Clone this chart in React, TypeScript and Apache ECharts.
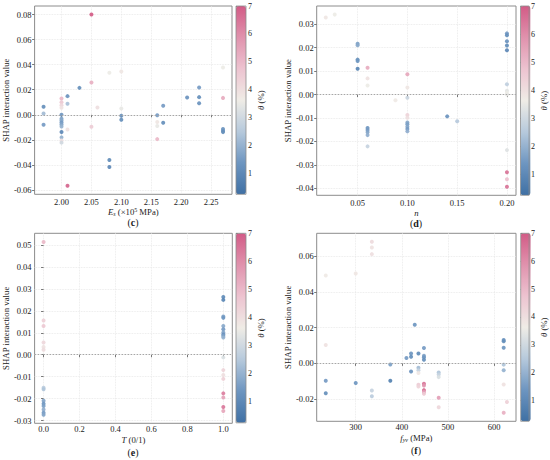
import React, { useEffect, useRef } from "react";
import * as echarts from "echarts";

// ---------- data ----------
const THETA_MIN = 0.26;
const THETA_MAX = 7;
const cbTicks = [1, 2, 3, 4, 5, 6, 7];

// (c) Es (x10^5 MPa)
const cEs = [1.97, 1.97, 1.97,
  2.0, 2.0, 2.0, 2.0, 2.0, 2.0, 2.0, 2.0, 2.0, 2.0, 2.0, 2.0, 2.0, 2.0,
  2.01, 2.01, 2.01, 2.01,
  2.03,
  2.05, 2.05, 2.05,
  2.06,
  2.08, 2.08, 2.08,
  2.1, 2.1, 2.1, 2.1,
  2.16, 2.16, 2.16, 2.16,
  2.17, 2.17,
  2.21,
  2.23, 2.23, 2.23,
  2.27, 2.27, 2.27, 2.27, 2.27];
const cShap = [0.0064, 0.0011, -0.008,
  0.013, 0.0101, 0.0077, 0.0056, 0.0, -0.0032, -0.0045, -0.0061, -0.0077, -0.0093, -0.0138, -0.018, -0.0205, -0.0222,
  0.0149, 0.0088, -0.0117, -0.0566,
  0.0215,
  0.08, 0.0258, -0.0096,
  0.0058,
  0.0335, -0.0361, -0.0417,
  0.0345, 0.005, -0.0008, -0.004,
  -0.0003, -0.0058, -0.009, -0.0194,
  0.0072, -0.0064,
  0.0138,
  0.0218, 0.0141, 0.0093,
  0.0377, 0.0135, -0.0114, -0.0127, -0.0138];
const cTheta = [1.2, 2.2, 1.5,
  5.0, 4.6, 4.2, 3.9, 1.4, 1.6, 1.8, 1.5, 1.7, 2.0, 1.0, 2.0, 4.0, 3.0,
  1.3, 2.3, 3.9, 6.8,
  1.2,
  7.0, 5.2, 4.5,
  4.0,
  3.6, 1.1, 1.0,
  3.8, 3.5, 1.3, 1.2,
  1.5, 3.8, 3.5, 5.0,
  1.5, 1.2,
  1.3,
  1.5, 1.2, 1.3,
  3.6, 5.3, 1.4, 1.3, 1.2];
const cXTicks = [2.0, 2.05, 2.1, 2.15, 2.2, 2.25];
const cYTicks = [-0.06, -0.04, -0.02, 0, 0.02, 0.04, 0.06, 0.08];

// (d) n
const dN = [0.018, 0.027,
  0.05, 0.05, 0.05, 0.05, 0.05,
  0.06, 0.06, 0.06, 0.06, 0.06, 0.06, 0.06, 0.06,
  0.088,
  0.1, 0.1, 0.1, 0.1, 0.1, 0.1, 0.1, 0.1, 0.1, 0.1,
  0.14, 0.15,
  0.2, 0.2, 0.2, 0.2, 0.2, 0.2, 0.2, 0.2, 0.2, 0.2, 0.2, 0.2, 0.2];
const dShap = [0.0329, 0.0341,
  0.0217, 0.021, 0.0149, 0.0143, 0.011,
  0.0114, 0.0069, 0.0039, -0.0143, -0.0151, -0.0161, -0.0173, -0.0221,
  -0.0024,
  0.0087, 0.003, -0.0014, -0.0087, -0.0099, -0.0119, -0.0127, -0.0137, -0.0147, -0.0157,
  -0.0093, -0.0114,
  0.0261, 0.0253, 0.0227, 0.0209, 0.0189, 0.0044, 0.0016, 0.0007, 0.0, -0.0237, -0.0331, -0.0361, -0.0393];
const dTheta = [3.8, 3.6,
  1.6, 1.8, 1.2, 1.4, 0.9,
  5.3, 3.9, 3.6, 1.4, 1.5, 1.7, 1.9, 2.8,
  3.7,
  5.4, 3.8, 2.9, 4.3, 4.0, 1.8, 1.6, 1.7, 1.5, 1.9,
  1.3, 2.5,
  1.5, 1.2, 1.3, 1.1, 1.0, 2.7, 3.4, 3.6, 3.5, 3.3, 6.5, 4.8, 6.5];
const dXTicks = [0.05, 0.1, 0.15, 0.2];
const dYTicks = [-0.04, -0.03, -0.02, -0.01, 0, 0.01, 0.02, 0.03];

// (e) T (0/1)
const eT = [0, 0, 0, 0, 0, 0, 0, 0, 0, 0, 0, 0, 0, 0,
  1, 1, 1, 1, 1, 1, 1, 1, 1, 1, 1, 1, 1, 1, 1, 1, 1, 1];
const eShap = [0.0514, 0.0156, 0.0131, 0.0056, 0.0035, 0.0023, -0.015, -0.0157, -0.021, -0.0223, -0.0234, -0.0249, -0.0264, -0.0273,
  0.0263, 0.025, 0.0174, 0.0168, 0.0131, 0.0116, 0.0101, 0.0092, 0.0085, 0.0079, -0.0012, -0.007, -0.0092, -0.011, -0.0176, -0.0195, -0.0238, -0.0256];
const eTheta = [5.0, 4.4, 4.6, 4.2, 3.9, 4.1, 2.6, 2.4, 1.7, 1.4, 1.6, 1.9, 1.5, 1.7,
  1.1, 0.9, 1.6, 1.4, 1.8, 1.5, 1.7, 1.3, 1.6, 2.0, 3.2, 4.3, 4.0, 4.4, 6.3, 5.5, 6.4, 5.4];
const eXTicks = [0, 0.2, 0.4, 0.6, 0.8, 1.0];
const eYTicks = [-0.03, -0.02, -0.01, 0, 0.01, 0.02, 0.03, 0.04, 0.05];

// (f) fyv (MPa)
const fFyv = [235, 235, 235, 235,
  300, 300,
  335, 335, 335, 335, 335,
  375, 375,
  410,
  420, 420, 420,
  428,
  436, 436, 436, 436, 436, 436,
  448, 448, 448, 448, 448, 448, 448, 448, 448,
  480, 480, 480, 480, 480,
  621, 621, 621, 621, 621, 621, 621,
  628];
const fShap = [0.0493, 0.0103, -0.0097, -0.0167,
  0.0504, -0.011,
  0.0682, 0.065, 0.0613, -0.0152, -0.0184,
  -0.0006, -0.0097,
  0.003,
  0.0056, 0.0037, -0.0045,
  0.0217,
  0.0056, -0.0024, -0.0039, -0.0054, -0.012, -0.013,
  0.0086, 0.0043, 0.0034, 0.0021, -0.0114, -0.0124, -0.015, -0.0161, -0.017,
  -0.0051, -0.0062, -0.0077, -0.0193, -0.0246,
  0.0131, 0.0124, 0.0088, -0.0007, -0.0039, -0.0118, -0.0277,
  -0.0217];
const fTheta = [3.7, 3.9, 1.5, 1.2,
  3.8, 1.4,
  4.1, 3.9, 4.0, 2.8, 2.6,
  1.6, 0.8,
  1.5,
  1.4, 1.2, 1.3,
  1.4,
  1.1, 2.2, 2.8, 3.8, 4.5, 4.3,
  1.5, 1.7, 1.4, 1.2, 6.5, 5.8, 6.6, 5.6, 4.6,
  2.4, 2.8, 3.2, 5.6, 4.2,
  1.3, 1.2, 1.4, 2.4, 2.0, 3.9, 5.2,
  4.4];
const fXTicks = [300, 400, 500, 600];
const fYTicks = [-0.02, 0, 0.02, 0.04, 0.06];

// ---------- style / layout ----------
const FONT = "Liberation Serif";
const CMAP = ["#3f70a4", "#6d95c0", "#b6c9dc", "#efece6", "#edc3d0", "#e092ad", "#d25b86"];
const TXT = "#1a1a1a";

const panels = [
  {
    xs: cEs, ys: cShap, th: cTheta, xTicks: cXTicks, yTicks: cYTicks, xDec: 2, yDec: 2, xSplit: 6, ySplit: 7,
    xName: "{i|E}{sub|s} (×10{sup|5} MPa)", tag: "c", labelMargin: 3, nameGap: 11,
    plot: { left: 33.5, top: 6, width: 198.5, height: 188.3 },
    cb: { left: 236, top: 6, width: 10, height: 188.3 }, tagPos: [133, 222],
  },
  {
    xs: dN, ys: dShap, th: dTheta, xTicks: dXTicks, yTicks: dYTicks, xDec: 2, yDec: 2, xSplit: 4, ySplit: 8,
    xName: "{i|n}", tag: "d", labelMargin: 3, nameGap: 5,
    plot: { left: 316.7, top: 6, width: 199.3, height: 189.3 },
    cb: { left: 520.5, top: 6, width: 10, height: 189.3 }, tagPos: [416, 223],
  },
  {
    xs: eT, ys: eShap, th: eTheta, xTicks: eXTicks, yTicks: eYTicks, xDec: 1, yDec: 2, xSplit: 5, ySplit: 8,
    xName: "{i|T} (0/1)", tag: "e", labelMargin: 1.5, nameGap: 7,
    plot: { left: 34.3, top: 233.3, width: 198, height: 190 },
    cb: { left: 236, top: 233.3, width: 10, height: 189.5 }, tagPos: [133, 452],
  },
  {
    xs: fFyv, ys: fShap, th: fTheta, xTicks: fXTicks, yTicks: fYTicks, xDec: 0, yDec: 2, xSplit: 4, ySplit: 5,
    xName: "{i|f}{sub|yv} (MPa)", tag: "f", labelMargin: 1.5, nameGap: 6,
    plot: { left: 316.7, top: 233.3, width: 199.3, height: 188 },
    cb: { left: 520.7, top: 233.3, width: 10, height: 188 }, tagPos: [416, 450],
  },
];

function padExtent(arr: number[]): [number, number] {
  const mn = Math.min(...arr);
  const mx = Math.max(...arr);
  const m = (mx - mn) * 0.05;
  return [mn - m, mx + m];
}

const nameRich = {
  i: { fontStyle: "italic", fontFamily: FONT, fontSize: 8.7, color: TXT, lineHeight: 10 },
  sub: { fontStyle: "italic", fontFamily: FONT, fontSize: 6, color: TXT, verticalAlign: "bottom" },
  sup: { fontFamily: FONT, fontSize: 6, color: TXT, verticalAlign: "top" },
};

function buildOption() {
  const grid: any[] = [];
  const xAxis: any[] = [];
  const yAxis: any[] = [];
  const series: any[] = [];
  const visualMap: any[] = [];
  const graphic: any[] = [];

  panels.forEach((p, i) => {
    const [x0, x1] = padExtent(p.xs);
    const [y0, y1] = padExtent(p.ys);
    grid.push({ ...p.plot, show: true, borderColor: "#8c8c8c", borderWidth: 1, backgroundColor: "transparent" });
    grid.push({ ...p.cb, show: true, borderColor: "#8c8c8c", borderWidth: 0.8, backgroundColor: "transparent", z: 10 });

    const splitLine = { show: true, lineStyle: { color: "#e6e6e6", type: "dotted", width: 0.8 } };
    xAxis.push({
      gridIndex: 2 * i, type: "value", min: x0, max: x1, splitNumber: p.xSplit,
      name: p.xName, nameLocation: "middle", nameGap: p.nameGap,
      nameTextStyle: { fontFamily: FONT, fontSize: 8.7, color: TXT, lineHeight: 10, rich: nameRich },
      axisLine: { show: false },
      axisTick: { show: true, length: 2.5, lineStyle: { color: "#555", width: 0.8 }, customValues: p.xTicks },
      axisLabel: {
        customValues: p.xTicks, formatter: (v: number) => v.toFixed(p.xDec),
        fontFamily: FONT, fontSize: 8.5, color: TXT, margin: p.labelMargin,
      },
      splitLine,
    });
    yAxis.push({
      gridIndex: 2 * i, type: "value", min: y0, max: y1, splitNumber: p.ySplit,
      name: "SHAP interaction value", nameLocation: "middle", nameGap: 21,
      nameTextStyle: { fontFamily: FONT, fontSize: 8.8, color: TXT },
      axisLine: { show: false },
      axisTick: { show: true, length: 2.5, lineStyle: { color: "#555", width: 0.8 }, customValues: p.yTicks },
      axisLabel: {
        customValues: p.yTicks, formatter: (v: number) => v.toFixed(p.yDec),
        fontFamily: FONT, fontSize: 8.5, color: TXT, margin: 3,
      },
      splitLine,
    });
    // colorbar axes
    xAxis.push({ gridIndex: 2 * i + 1, type: "value", min: 0, max: 1, show: false });
    yAxis.push({
      gridIndex: 2 * i + 1, type: "value", position: "right", min: THETA_MIN, max: THETA_MAX,
      name: "{i|θ} (%)", nameLocation: "middle", nameGap: 8, nameRotate: 90,
      nameTextStyle: { fontFamily: FONT, fontSize: 8.7, color: TXT, lineHeight: 10, rich: nameRich },
      axisLine: { show: false },
      axisTick: { show: true, length: 2, lineStyle: { color: "#555", width: 0.8 }, customValues: cbTicks },
      axisLabel: { customValues: cbTicks, fontFamily: FONT, fontSize: 8, color: TXT, margin: 2 },
      splitLine: { show: false },
    });

    series.push({
      type: "scatter", xAxisIndex: 2 * i, yAxisIndex: 2 * i,
      data: p.xs.map((x, k) => [x, p.ys[k], p.th[k]]),
      symbolSize: 4, itemStyle: { opacity: 0.92 }, z: 3,
      markLine: {
        silent: true, symbol: ["none", "none"], label: { show: false },
        lineStyle: { color: "#a6a6a6", type: [1.5, 1.5], width: 1 },
        data: [{ yAxis: 0 }],
      },
    });

    visualMap.push({
      type: "continuous", seriesIndex: i, dimension: 2, min: THETA_MIN, max: THETA_MAX,
      left: p.cb.left, top: p.cb.top, itemWidth: p.cb.width, itemHeight: p.cb.height,
      orient: "vertical", calculable: false, hoverLink: false, padding: 0, text: null, showLabel: false,
      inRange: { color: CMAP },
    });

    graphic.push({
      type: "text", x: p.tagPos[0], y: p.tagPos[1],
      style: {
        text: "({b|" + p.tag + "})", fontFamily: FONT, fontSize: 10, fill: TXT, align: "center", verticalAlign: "middle",
        rich: { b: { fontFamily: FONT, fontSize: 10, fontWeight: "bold", fill: TXT, color: TXT } },
      },
    });
  });

  return {
    animation: false,
    backgroundColor: "#ffffff",
    textStyle: { fontFamily: FONT },
    grid, xAxis, yAxis, series, visualMap, graphic,
  };
}

export default function App() {
  const ref = useRef<HTMLDivElement>(null);
  useEffect(() => {
    if (!ref.current) return;
    const chart = echarts.init(ref.current, undefined, { renderer: "svg" });
    chart.setOption(buildOption() as any);
    return () => chart.dispose();
  }, []);
  return <div ref={ref} style={{ position: "absolute", left: 0, top: 0, width: 550, height: 460 }} />;
}
